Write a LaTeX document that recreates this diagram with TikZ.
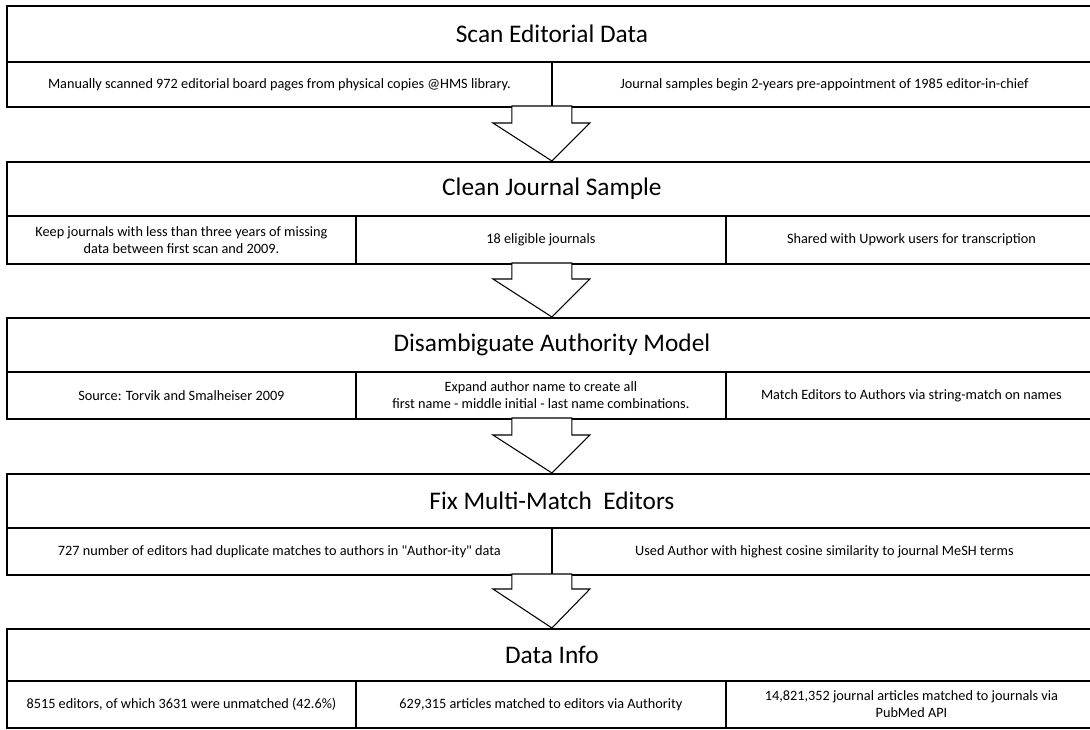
\documentclass[tikz,border=0pt]{standalone}
\usepackage{fontspec}
\setmainfont{Carlito}
\usetikzlibrary{positioning}
\tikzset{
  stagehead/.style 2 args={draw,line width=1.4pt,anchor=north west,inner sep=0pt,
    minimum width=#1*0.75pt,minimum height=#2*0.75pt,font=\fontsize{19}{22}\selectfont},
  stagecell/.style 2 args={draw,line width=1.4pt,anchor=north west,inner sep=2pt,align=center,
    minimum width=#1*0.75pt,minimum height=#2*0.75pt,font=\fontsize{10.7}{12.8}\selectfont},
  flowarrow/.style={draw,line width=0.8pt,fill=white}
}

\begin{document}
\begin{tikzpicture}[x=0.75pt,y=-0.75pt]
  \useasboundingbox (0,0) rectangle (1090,730);
  % stage 1
  \node[stagehead={1090}{56}] (scan) at (6,5) {Scan Editorial Data};
  \node[stagecell={545}{45}] (scanA) at (6,61) {Manually scanned 972 editorial board pages from physical copies @HMS library.};
  \node[stagecell={545}{45}] (scanB) at (551,61) {Journal samples begin 2-years pre-appointment of 1985 editor-in-chief};
  % stage 2
  \node[stagehead={1090}{54}] (clean) at (6,161) {Clean Journal Sample};
  \node[stagecell={349}{48}] (cleanA) at (6,215) {Keep journals with less than three years of missing\\data between first scan and 2009.};
  \node[stagecell={370}{48}] (cleanB) at (355,215) {18 eligible journals};
  \node[stagecell={371}{48}] (cleanC) at (725,215) {Shared with Upwork users for transcription};
  % stage 3
  \node[stagehead={1090}{54}] (disamb) at (6,317) {Disambiguate Authority Model};
  \node[stagecell={349}{47}] (disambA) at (6,371) {Source: Torvik and Smalheiser 2009};
  \node[stagecell={370}{47}] (disambB) at (355,371) {Expand author name to create all\\first name - middle initial - last name combinations.};
  \node[stagecell={371}{47}] (disambC) at (725,371) {Match Editors to Authors via string-match on names};
  % stage 4
  \node[stagehead={1090}{54}] (multi) at (6,473) {Fix Multi-Match\ \ Editors};
  \node[stagecell={545}{47}] (multiA) at (6,527) {727 number of editors had duplicate matches to authors in \textquotedbl Author-ity\textquotedbl\ data};
  \node[stagecell={545}{47}] (multiB) at (551,527) {Used Author with highest cosine similarity to journal MeSH terms};
  % stage 5
  \node[stagehead={1090}{52}] (info) at (6,628) {Data Info};
  \node[stagecell={349}{47}] (infoA) at (6,680) {8515 editors, of which 3631 were unmatched (42.6\%)};
  \node[stagecell={370}{47}] (infoB) at (355,680) {629,315 articles matched to editors via Authority};
  \node[stagecell={371}{47}] (infoC) at (725,680) {14,821,352 journal articles matched to journals via\\PubMed API};
  % arrows between stages
  \draw[flowarrow] (clean.north) -- ++(-59,-38) -- ++(19,0) -- ++(0,-17) -- ++(60,0) -- ++(0,17) -- ++(18,0) -- cycle;
  \draw[flowarrow] (disamb.north) -- ++(-59,-38) -- ++(19,0) -- ++(0,-16) -- ++(60,0) -- ++(0,16) -- ++(18,0) -- cycle;
  \draw[flowarrow] (multi.north) -- ++(-59,-38) -- ++(19,0) -- ++(0,-17) -- ++(60,0) -- ++(0,17) -- ++(18,0) -- cycle;
  \draw[flowarrow] (info.north) -- ++(-59,-39) -- ++(19,0) -- ++(0,-15) -- ++(60,0) -- ++(0,15) -- ++(18,0) -- cycle;
\end{tikzpicture}
\end{document}
